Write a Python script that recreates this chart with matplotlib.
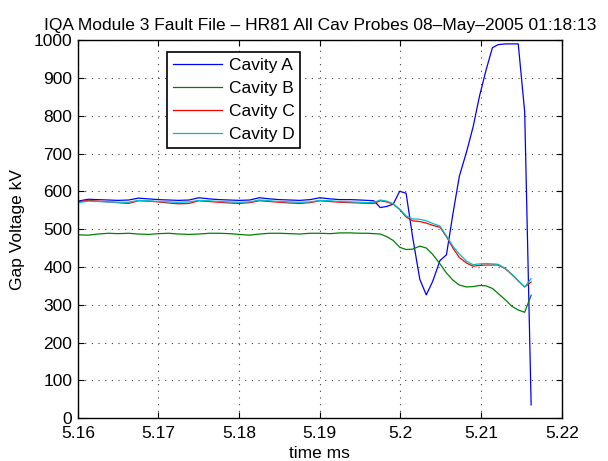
import matplotlib
matplotlib.use("Agg")
import matplotlib.pyplot as plt

plt.rcParams['font.family'] = ['Liberation Sans', 'DejaVu Sans']

t = [5.1600, 5.1613, 5.1625, 5.1638, 5.1650, 5.1663, 5.1675, 5.1688, 5.1700, 5.1713,
     5.1725, 5.1738, 5.1750, 5.1763, 5.1775, 5.1788, 5.1800, 5.1813, 5.1825, 5.1838,
     5.1850, 5.1863, 5.1875, 5.1888, 5.1900, 5.1913, 5.1925, 5.1938, 5.1950,
     5.1959, 5.1967, 5.1975, 5.1983, 5.1991, 5.1999, 5.2007, 5.2015, 5.2024, 5.2032,
     5.2040, 5.2049, 5.2057, 5.2065, 5.2073, 5.2082, 5.2090, 5.2098, 5.2106, 5.2114,
     5.2121, 5.2130, 5.2138, 5.2146, 5.2154, 5.2162]

cav_a = [574, 579, 578, 577, 576, 577, 582, 580, 578, 577,
         576, 577, 583, 580, 578, 577, 576, 577, 583, 580,
         578, 577, 576, 578, 583, 580, 578, 578, 577,
         576, 575, 557, 560, 566, 600, 595, 480, 367, 326,
         362, 417, 432, 540, 640, 705, 770, 852, 920, 980,
         988, 990, 990, 990, 810, 35]

cav_b = [485, 484, 487, 489, 488, 489, 487, 486, 488, 489,
         487, 486, 487, 489, 489, 488, 486, 484, 487, 489,
         489, 488, 487, 489, 489, 488, 490, 490, 489,
         489, 488, 487, 480, 470, 452, 446, 447, 455, 450,
         433, 408, 384, 365, 352, 347, 348, 351, 350, 343,
         330, 313, 296, 286, 280, 325]

cav_c = [572, 576, 574, 572, 570, 568, 575, 574, 572, 569,
         567, 568, 575, 573, 571, 569, 568, 570, 575, 573,
         571, 569, 568, 570, 575, 573, 571, 570, 569,
         568, 568, 575, 572, 566, 552, 532, 522, 520, 516,
         510, 505, 480, 450, 425, 410, 402, 404, 405, 405,
         405, 395, 380, 363, 347, 360]

cav_d = [570, 574, 573, 572, 571, 571, 576, 575, 573, 572,
         571, 572, 576, 575, 573, 572, 571, 572, 577, 575,
         573, 572, 571, 572, 576, 575, 573, 572, 571,
         570, 571, 577, 574, 567, 553, 535, 527, 526, 522,
         515, 508, 482, 455, 434, 415, 406, 408, 409, 408,
         407, 396, 381, 364, 347, 369]

labels = ['Cavity A', 'Cavity B', 'Cavity C', 'Cavity D']
colors = ['#0000ff', '#008000', '#ff0000', '#00bfbf']

FS = 12.5

fig = plt.figure(figsize=(6.08, 4.61), dpi=100)
ax = fig.add_axes([0.128, 0.093, 0.796, 0.820])

for y, lab, c in zip([cav_a, cav_b, cav_c, cav_d], labels, colors):
    ax.plot(t, y, color=c, lw=0.9, label=lab)

ax.set_xlim(5.16, 5.22)
ax.set_ylim(0, 1000)
ax.set_xticks([5.16, 5.17, 5.18, 5.19, 5.2, 5.21, 5.22])
ax.set_xticklabels(['5.16', '5.17', '5.18', '5.19', '5.2', '5.21', '5.22'])
ax.set_yticks(range(0, 1001, 100))
ax.grid(True, linestyle=(0, (1, 5)), color='#404040', lw=0.8)
ax.tick_params(direction='in', top=True, right=True, labelsize=FS, length=4)
ax.tick_params(axis='x', pad=6)
ax.tick_params(axis='y', pad=4)
for s in ax.spines.values():
    s.set_linewidth(1.0)

ax.set_xlabel('time ms', fontsize=FS, labelpad=3)
ax.set_ylabel('Gap Voltage kV', fontsize=FS, labelpad=6)
ax.set_title('IQA Module 3 Fault File \u2013 HR81 All Cav Probes 08\u2013May\u20132005 01:18:13',
             fontsize=FS, pad=7)

leg = ax.legend(loc='upper left', bbox_to_anchor=(0.184, 0.968), fontsize=FS,
                handlelength=2.8, handletextpad=0.4, labelspacing=0.45,
                borderpad=0.35, fancybox=False, framealpha=1, edgecolor='black',
                borderaxespad=0)
leg.get_frame().set_linewidth(1.2)

fig.savefig('out.png', dpi=100)
